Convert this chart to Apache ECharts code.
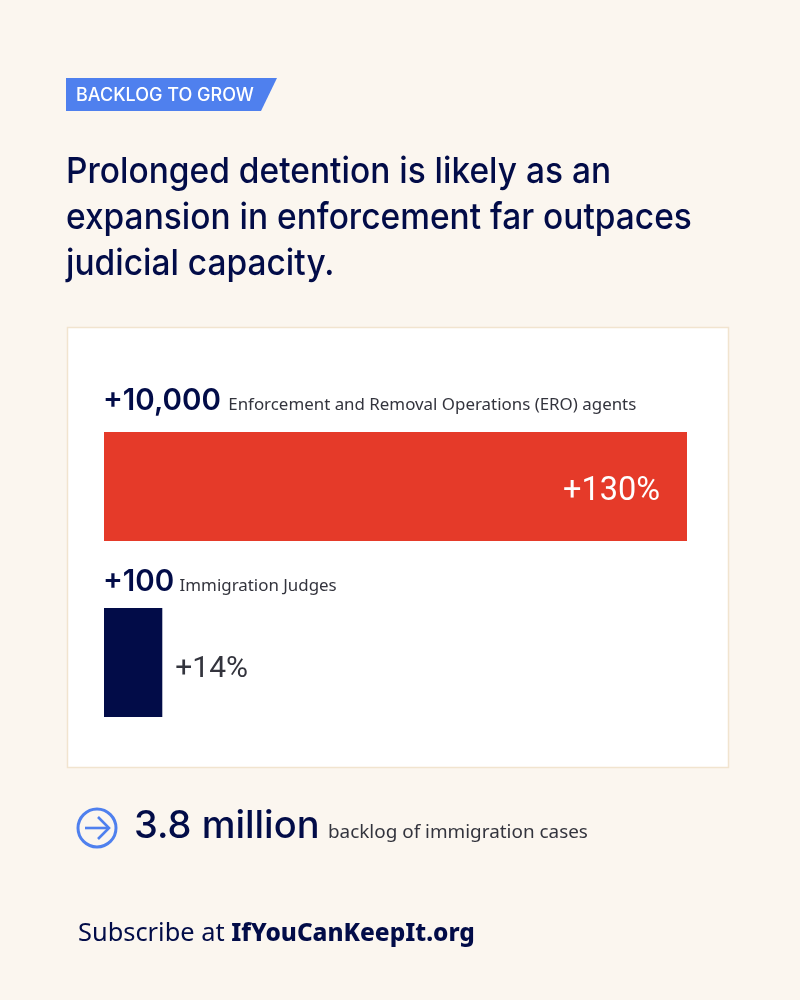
<!DOCTYPE html>
<html>
<head>
<meta charset="utf-8">
<title>Backlog to grow</title>
<style>
  html, body { margin: 0; padding: 0; background: #fbf6ef; }
  #chart { width: 800px; height: 1000px; }
</style>
<script src="https://cdn.jsdelivr.net/npm/echarts@6/dist/echarts.min.js"></script>
</head>
<body>
<div id="chart"></div>
<script>
var tagText = 'BACKLOG TO GROW';
var titleLines = ['Prolonged detention is likely as an', 'expansion in enforcement far outpaces', 'judicial capacity.'];

var categories = ['ERO agents', 'Immigration Judges'];
var barLengths = [130, 13];   // length as drawn in the picture
var barLabels = ['+130%', '+14%'];
var headCounts = ['+10,000', '+100'];
var headNotes = ['Enforcement and Removal Operations (ERO) agents', 'Immigration Judges'];

var backlogValue = '3.8 million';
var backlogNote = 'backlog of immigration cases';
var subscribeText = 'Subscribe at ';
var subscribeLink = 'IfYouCanKeepIt.org';

var navy = '#020c48';
var red = '#e53a29';
var blue = '#4f80ee';
var grey = '#33343d';
var headFont = 'Inter';
var bodyFont = 'Noto Sans';

var chart = echarts.init(document.getElementById('chart'));

function headLabel(i, x, y, gap) {
  return {
    type: 'text', x: x, y: y, z: 5,
    style: {
      text: '{n|' + headCounts[i] + '} {t|' + headNotes[i] + '}',
      rich: {
        n: { fontFamily: headFont, fontSize: 29.5, fontWeight: 600, fill: navy, color: navy },
        t: { fontFamily: bodyFont, fontSize: 16.9, fill: grey, color: grey, padding: [8, 0, 0, gap] }
      },
      verticalAlign: 'middle'
    }
  };
}

var titleEls = titleLines.map(function(line, i) {
  return {
    type: 'text', x: 66, y: 172 + i * 46, z: 5, scaleX: 0.93,
    style: { text: line, fontFamily: headFont, fontSize: 36, fontWeight: 500, fill: navy, verticalAlign: 'middle' }
  };
});

chart.setOption({
  animation: false,
  backgroundColor: '#fbf6ef',
  grid: { left: 104, right: 113, top: 398.5, height: 352 },
  xAxis: { type: 'value', min: 0, max: 130, show: false },
  yAxis: { type: 'category', data: categories, inverse: true, show: false },
  series: [{
    type: 'bar',
    z: 3,
    barWidth: 109,
    data: barLengths.map(function(v, i) {
      return {
        value: v,
        itemStyle: { color: i === 0 ? red : navy },
        label: {
          show: true,
          formatter: barLabels[i],
          position: i === 0 ? 'insideRight' : 'right',
          distance: i === 0 ? 27 : 13,
          offset: [0, i === 0 ? 5 : 7],
          color: i === 0 ? '#ffffff' : grey,
          fontFamily: 'Roboto',
          fontSize: i === 0 ? 32.5 : 30,
          fontWeight: 400
        }
      };
    })
  }],
  graphic: [
    {
      type: 'rect', z: -1,
      shape: { x: 67.5, y: 327.5, width: 661, height: 440 },
      style: { fill: '#ffffff', stroke: '#f1e4cf', lineWidth: 1.5 }
    },
    {
      type: 'polygon', z: 1,
      shape: { points: [[66, 78], [277, 78], [261, 111], [66, 111]] },
      style: { fill: blue }
    },
    {
      type: 'text', x: 76, y: 95.5, z: 5,
      style: { text: tagText, fontFamily: headFont, fontSize: 18, fontWeight: 500, fill: '#ffffff', verticalAlign: 'middle' }
    },
    headLabel(0, 103, 401, 4),
    headLabel(1, 103, 582, 2),
    {
      type: 'circle', z: 1,
      shape: { cx: 97, cy: 828, r: 19 },
      style: { fill: 'none', stroke: blue, lineWidth: 3 }
    },
    {
      type: 'polyline', z: 1,
      shape: { points: [[85, 828], [109, 828]] },
      style: { fill: 'none', stroke: blue, lineWidth: 2.6 }
    },
    {
      type: 'polyline', z: 1,
      shape: { points: [[98, 817], [109, 828], [98, 839]] },
      style: { fill: 'none', stroke: blue, lineWidth: 2.6 }
    },
    {
      type: 'text', x: 134, y: 827, z: 5,
      style: { text: backlogValue, fontFamily: headFont, fontSize: 38, fontWeight: 500, fill: navy, verticalAlign: 'middle' }
    },
    {
      type: 'text', x: 328, y: 833, z: 5,
      style: { text: backlogNote, fontFamily: bodyFont, fontSize: 18.9, fill: grey, verticalAlign: 'middle' }
    },
    {
      type: 'text', x: 78, y: 934, z: 5,
      style: {
        text: '{a|' + subscribeText + '}{b|' + subscribeLink + '}',
        rich: {
          a: { fontFamily: bodyFont, fontSize: 25.4, fill: navy, color: navy },
          b: { fontFamily: bodyFont, fontSize: 24.4, fontWeight: 800, fill: navy, color: navy }
        },
        verticalAlign: 'middle'
      }
    }
  ].concat(titleEls)
});
window.addEventListener('resize', function() { chart.resize(); });
</script>
</body>
</html>
